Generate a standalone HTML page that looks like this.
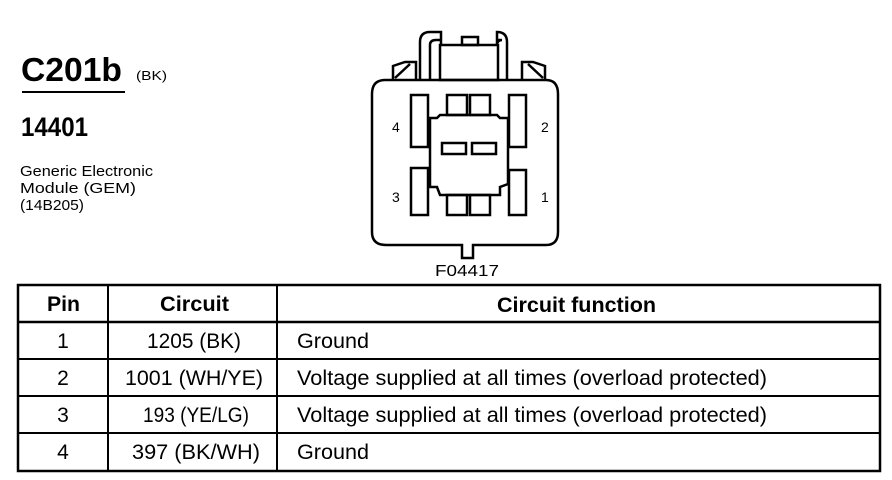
<!DOCTYPE html>
<html><head><meta charset="utf-8"><style>
html,body{margin:0;padding:0;background:#fff;}
svg{display:block;}
text{font-family:"Liberation Sans",Arial,sans-serif;fill:#000;}
</style></head><body>
<svg width="892" height="480" viewBox="0 0 892 480" xmlns="http://www.w3.org/2000/svg">
<rect width="892" height="480" fill="#fff"/>
<text x="21" y="81" font-size="33" font-weight="bold" textLength="101" lengthAdjust="spacingAndGlyphs">C201b</text>
<text x="136" y="80" font-size="13" textLength="31" lengthAdjust="spacingAndGlyphs">(BK)</text>
<line x1="22" y1="92" x2="125" y2="92" stroke="#000" stroke-width="2"/>
<text x="21" y="136" font-size="27" font-weight="bold" textLength="67" lengthAdjust="spacingAndGlyphs">14401</text>
<text x="20" y="176" font-size="15" textLength="133" lengthAdjust="spacingAndGlyphs">Generic Electronic</text>
<text x="20" y="193" font-size="15" textLength="116" lengthAdjust="spacingAndGlyphs">Module (GEM)</text>
<text x="20" y="210" font-size="15" textLength="64" lengthAdjust="spacingAndGlyphs">(14B205)</text>

<g fill="none" stroke="#000" stroke-width="2.5">
<path d="M420 80 V42 Q420 32 430 32 H441 V45 M497 45 V32 H497 Q507 32 507 42 V80"/>
<path d="M430 80 V45 Q430 40 436 40 H441 M497 40 H502 Q497 40 497 45"/>
<rect x="440" y="45" width="58" height="35"/>
<rect x="462" y="37" width="16" height="8"/>
<path d="M393 80 V66 L405 62 H416 V80 M395 78 L410 64"/>
<path d="M545 80 V66 L533 62 H522 V80 M543 78 L528 64"/>
<path d="M385 80 H546 Q558 80 558 94 V232 Q558 245 546 245 H473 V258 H462 V245 H386 Q372 245 372 232 V94 Q372 80 385 80 Z"/>
<rect x="411" y="95" width="17" height="52"/>
<rect x="411" y="168" width="17" height="47"/>
<rect x="509" y="95" width="17" height="52"/>
<rect x="509" y="170" width="17" height="45"/>
<rect x="447" y="95" width="20" height="20"/>
<rect x="470" y="95" width="20" height="20"/>
<rect x="447" y="195" width="20" height="20"/>
<rect x="470" y="195" width="20" height="20"/>
<path d="M440 115 H497 L500 118 H508 V184 L500 187 V195 H440 L437 187 H430 V118 H437 Z"/>
<rect x="442" y="143" width="24" height="11"/>
<rect x="472" y="143" width="24" height="11"/>
</g>
<text x="392" y="132" font-size="14">4</text>
<text x="541" y="132" font-size="14">2</text>
<text x="392" y="202" font-size="14">3</text>
<text x="541" y="202" font-size="14">1</text>
<text x="467" y="276" font-size="16" text-anchor="middle" textLength="64" lengthAdjust="spacingAndGlyphs">F04417</text>

<g stroke="#000" fill="none">
<rect x="18" y="285" width="862" height="186" stroke-width="2.5"/>
<line x1="108" y1="285" x2="108" y2="471" stroke-width="2"/>
<line x1="277" y1="285" x2="277" y2="471" stroke-width="2"/>
<line x1="18" y1="322" x2="880" y2="322" stroke-width="2.5"/>
<line x1="18" y1="359" x2="880" y2="359" stroke-width="2"/>
<line x1="18" y1="396" x2="880" y2="396" stroke-width="2"/>
<line x1="18" y1="433" x2="880" y2="433" stroke-width="2"/>
</g>
<g font-size="21">
<text x="47" y="311" font-weight="bold" textLength="33" lengthAdjust="spacingAndGlyphs">Pin</text>
<text x="160" y="311" font-weight="bold" textLength="69" lengthAdjust="spacingAndGlyphs">Circuit</text>
<text x="497" y="312" font-weight="bold" textLength="159" lengthAdjust="spacingAndGlyphs">Circuit function</text>
<text x="63" y="348" text-anchor="middle">1</text>
<text x="147" y="348" textLength="94" lengthAdjust="spacingAndGlyphs">1205 (BK)</text>
<text x="297" y="348" textLength="72" lengthAdjust="spacingAndGlyphs">Ground</text>
<text x="63" y="385" text-anchor="middle">2</text>
<text x="125" y="385" textLength="138" lengthAdjust="spacingAndGlyphs">1001 (WH/YE)</text>
<text x="297" y="385" textLength="470" lengthAdjust="spacingAndGlyphs">Voltage supplied at all times (overload protected)</text>
<text x="63" y="422" text-anchor="middle">3</text>
<text x="143" y="422" textLength="106" lengthAdjust="spacingAndGlyphs">193 (YE/LG)</text>
<text x="297" y="422" textLength="470" lengthAdjust="spacingAndGlyphs">Voltage supplied at all times (overload protected)</text>
<text x="63" y="459" text-anchor="middle">4</text>
<text x="132" y="459" textLength="128" lengthAdjust="spacingAndGlyphs">397 (BK/WH)</text>
<text x="297" y="459" textLength="72" lengthAdjust="spacingAndGlyphs">Ground</text>
</g>
</svg>
</body></html>
